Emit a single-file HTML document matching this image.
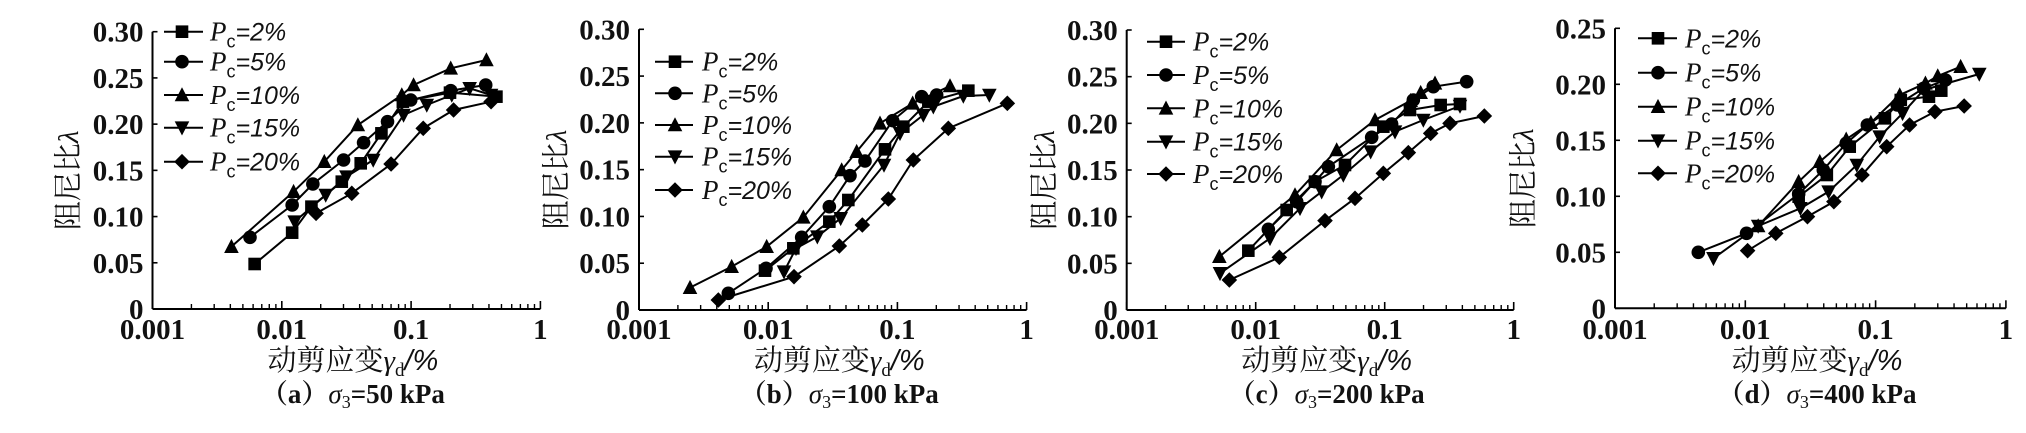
<!DOCTYPE html>
<html><head><meta charset="utf-8">
<style>
html,body{margin:0;padding:0;background:#fff;}
svg{display:block;}
.tk{font-family:"Liberation Serif",serif;font-weight:bold;font-size:29px;fill:#111;}
.lg{font-family:"Liberation Sans",sans-serif;font-style:italic;font-size:25px;fill:#111;}
.lp{font-family:"Liberation Serif",serif;font-style:italic;font-size:27px;}
.cj{font-family:"Liberation Serif","Noto Serif CJK SC",serif;font-size:29px;fill:#111;}
.cap{font-family:"Liberation Serif","Noto Serif CJK SC",serif;font-weight:bold;font-size:27px;fill:#111;}
</style></head>
<body>
<svg id="s" xmlns="http://www.w3.org/2000/svg" width="2026" height="433" viewBox="0 0 2026 433"></svg>
<script>
var NS="http://www.w3.org/2000/svg";
var s=document.getElementById('s');
function el(t,a,txt){var e=document.createElementNS(NS,t);for(var k in a)e.setAttribute(k,a[k]);if(txt!=null)e.innerHTML=txt;s.appendChild(e);return e;}
function marker(type,x,y){
 var r=6.3;
 if(type==0) el('rect',{x:x-r,y:y-r,width:2*r,height:2*r,fill:'#000'});
 else if(type==1) el('circle',{cx:x,cy:y,r:r+0.5,fill:'#000'});
 else if(type==2) el('polygon',{points:(x)+','+(y-r-1.5)+' '+(x-r-1)+','+(y+r)+' '+(x+r+1)+','+(y+r),fill:'#000'});
 else if(type==3) el('polygon',{points:(x)+','+(y+r+1.5)+' '+(x-r-1)+','+(y-r)+' '+(x+r+1)+','+(y-r),fill:'#000'});
 else el('polygon',{points:x+','+(y-r-1.5)+' '+(x+r+1.5)+','+y+' '+x+','+(y+r+1.5)+' '+(x-r-1.5)+','+y,fill:'#000'});
}
var panels=[
 {off:0,hs:2.8,ax:152.5,dec:129.3,y0:309,ytop:31.7,yl:['0','0.05','0.10','0.15','0.20','0.25','0.30'],
  leg:{x1:164,x2:203,m:182,t:210,rows:[31.7,61.7,95,127.7,161.7]},cap:'a',kpa:'50',ylx:78,
  d:[[[713,792],[818,698],[872,620],[957,545],[1010,490],[1068,400],[1128,305],[1260,278],[1390,290]],
     [[700,712],[818,615],[876,552],[962,480],[1018,428],[1085,365],[1150,300],[1262,272],[1360,255]],
     [[648,740],[822,575],[908,485],[1002,375],[1125,285],[1158,255],[1262,205],[1362,180]],
     [[825,665],[912,585],[970,530],[1045,480],[1130,345],[1195,315],[1265,285],[1315,265],[1375,285]],
     [[885,640],[985,580],[1095,492],[1185,385],[1270,330],[1375,305]]]},
 {off:520,hs:3,ax:639,dec:129.2,y0:310,ytop:29.3,yl:['0','0.05','0.10','0.15','0.20','0.25','0.30'],
  leg:{x1:655,x2:693,m:675,t:702,rows:[61.7,93.3,125,156.7,190]},cap:'b',kpa:'100',ylx:566,
  d:[[[735,812],[820,745],[928,665],[985,600],[1095,448],[1150,380],[1225,305],[1345,272]],
     [[625,880],[738,805],[845,712],[928,620],[990,527],[1035,483],[1118,362],[1205,290],[1250,285]],
     [[510,863],[635,800],[740,740],[850,652],[965,510],[1010,455],[1080,370],[1178,310],[1290,258]],
     [[792,815],[828,745],[892,710],[962,655],[1092,495],[1140,400],[1210,345],[1240,320],[1330,288],[1408,285]],
     [[595,900],[822,830],[958,738],[1027,675],[1105,597],[1180,480],[1285,385],[1462,310]]]},
 {off:1000,hs:3,ax:1126.7,dec:129,y0:310,ytop:30,yl:['0','0.05','0.10','0.15','0.20','0.25','0.30'],
  leg:{x1:1147,x2:1185,m:1166,t:1193,rows:[41.7,75,108.3,141.7,174]},cap:'c',kpa:'200',ylx:1054,
  d:[[[745,752],[860,630],[945,545],[1035,495],[1150,380],[1230,330],[1322,315],[1380,312]],
     [[805,688],[890,605],[945,545],[985,500],[1115,412],[1175,372],[1240,300],[1300,260],[1400,245]],
     [[658,770],[885,585],[1010,450],[1125,360],[1232,302],[1262,278],[1305,250]],
     [[660,820],[810,715],[900,625],[965,575],[1030,525],[1112,455],[1185,395],[1270,360],[1380,318]],
     [[688,840],[838,772],[975,662],[1065,595],[1150,520],[1225,458],[1292,400],[1350,370],[1453,348]]]},
 {off:1480,hs:2.84,ax:1615,dec:130.3,y0:308.3,ytop:28.3,yl:['0','0.05','0.10','0.15','0.20','0.25'],
  leg:{x1:1638,x2:1677,m:1658,t:1685,rows:[38.3,72.7,106.7,140.7,173.3]},cap:'d',kpa:'400',ylx:1533,
  d:[[[905,590],[985,525],[1050,440],[1150,355],[1195,300],[1275,290],[1310,272]],
     [[620,757],[757,700],[905,582],[975,510],[1040,430],[1100,375],[1185,315],[1260,265],[1322,240]],
     [[790,678],[905,545],[965,485],[1040,418],[1110,368],[1192,285],[1265,250],[1300,228],[1365,200]],
     [[663,775],[790,678],[910,625],[990,575],[1070,495],[1135,410],[1200,340],[1260,270],[1418,222]],
     [[760,752],[840,700],[930,650],[1005,605],[1085,525],[1155,440],[1220,375],[1292,335],[1375,318]]]}
];
var pcs=['2','5','10','15','20'];
panels.forEach(function(p){
 var ax=p.ax, y0=p.y0, dec=p.dec, xend=ax+3*dec;
 el('line',{x1:ax,y1:p.ytop,x2:ax,y2:y0,stroke:'#000','stroke-width':2});
 el('line',{x1:ax,y1:y0,x2:xend,y2:y0,stroke:'#000','stroke-width':2});
 var n=p.yl.length-1, sp=(y0-p.ytop)/n;
 for(var i=0;i<=n;i++){var y=y0-i*sp;
  el('line',{x1:ax,y1:y,x2:ax+5,y2:y,stroke:'#000','stroke-width':1.6});
  el('text',{x:ax-9,y:y+10,'text-anchor':'end','class':'tk'},p.yl[i]);}
 var xl=['0.001','0.01','0.1','1'];
 for(var d=0;d<=3;d++){var x=ax+d*dec;
  el('line',{x1:x,y1:y0,x2:x,y2:y0-8,stroke:'#000','stroke-width':1.6});
  el('text',{x:x,y:339,'text-anchor':'middle','class':'tk'},xl[d]);
  if(d<3)for(var m=2;m<=9;m++){var xm=x+Math.log10(m)*dec;
   el('line',{x1:xm,y1:y0,x2:xm,y2:y0-5,stroke:'#000','stroke-width':1.4});}}
 var cy=(p.ytop+y0)/2+10;
 el('text',{x:0,y:0,'class':'cj','text-anchor':'middle',transform:'translate('+(p.ylx)+','+cy+') rotate(-90)'},'阻尼比<tspan font-style="italic">λ</tspan>');
 var cx=ax+1.55*dec;
 el('text',{x:cx,y:370,'text-anchor':'middle','class':'cj'},'动剪应变<tspan font-style="italic">γ</tspan><tspan font-size="19" dy="6">d</tspan><tspan dy="-6" font-family="Liberation Sans" font-style="italic">/%</tspan>');
 el('text',{x:cx,y:403,'text-anchor':'middle','class':'cap'},'（'+p.cap+'）<tspan font-style="italic" font-weight="normal">σ</tspan><tspan font-size="18" font-weight="normal" dy="5">3</tspan><tspan dy="-5">='+p.kpa+' kPa</tspan>');
 p.d.forEach(function(ser,k){
  var pts=ser.map(function(q){return [p.off+q[0]/p.hs,q[1]/3];});
  el('polyline',{points:pts.map(function(q){return q.join(',');}).join(' '),fill:'none',stroke:'#000','stroke-width':2});
  pts.forEach(function(q){marker(k,q[0],q[1]);});
  var L=p.leg, ry=L.rows[k];
  el('line',{x1:L.x1,y1:ry,x2:L.x2,y2:ry,stroke:'#000','stroke-width':2});
  marker(k,L.m,ry);
  el('text',{x:L.t,y:ry+9,'class':'lg'},'<tspan class="lp">P</tspan><tspan font-style="normal" font-family="Liberation Sans" font-size="18" dy="7">c</tspan><tspan dy="-7">='+pcs[k]+'%</tspan>');
 });
});
</script>
</body></html>
